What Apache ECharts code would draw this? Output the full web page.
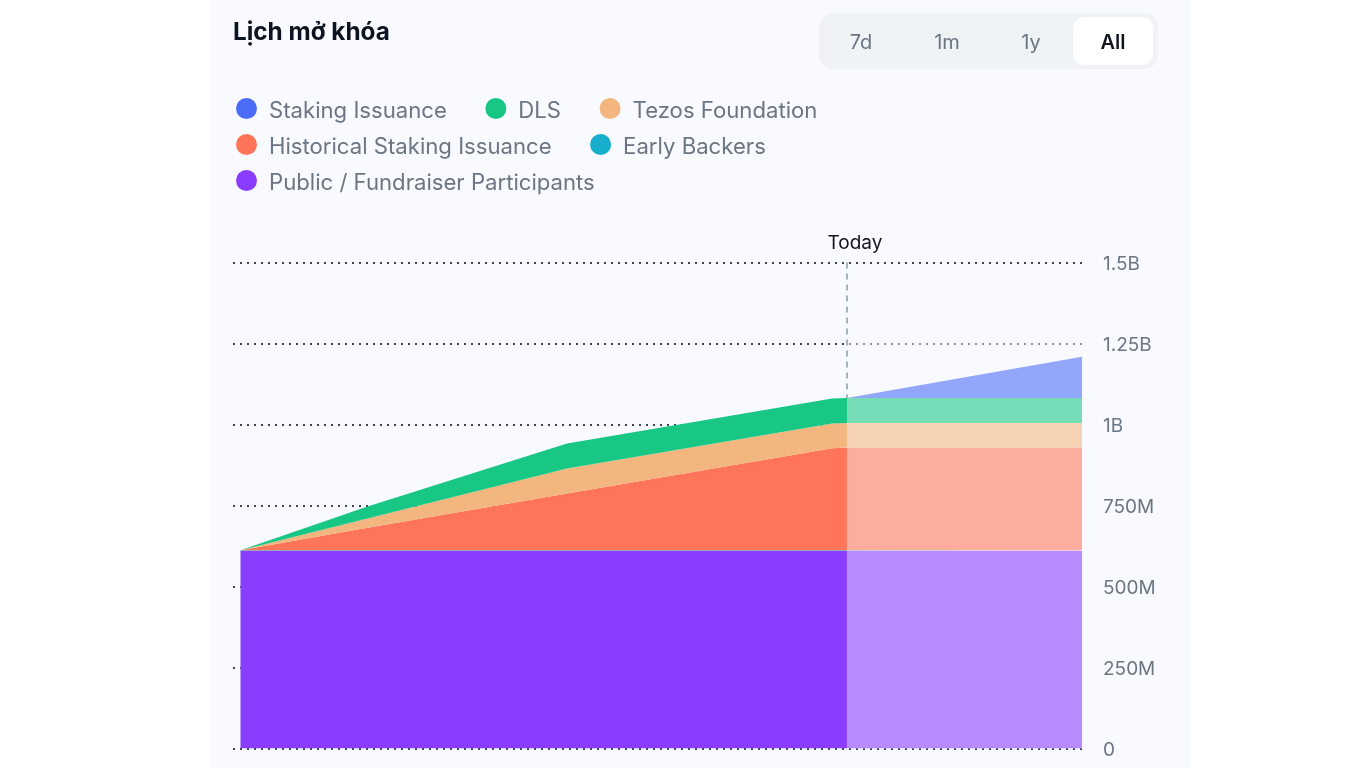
<!DOCTYPE html>
<html lang="vi">
<head>
<meta charset="utf-8">
<title>Lịch mở khóa</title>
<script src="https://cdn.jsdelivr.net/npm/echarts@6/dist/echarts.min.js"></script>
<style>
    html, body { margin: 0; padding: 0; background: #fff; overflow: hidden; }
    body { font-family: Inter, sans-serif; }
    #panel { position: absolute; left: 210px; top: 0; width: 981px; height: 768px; background: #f8faff; }
    #main { position: absolute; left: 0; top: 0; width: 1366px; height: 768px; }
    #range { position: absolute; left: 819px; top: 13px; width: 339px; height: 56px; background: #eff3f6; border-radius: 14px; }
    #range div { position: absolute; top: 4px; height: 48px; line-height: 51px; text-align: center; font-size: 20px; color: #6b7583; }
    #range .on { background: #fff; border-radius: 11px; color: #10151f; font-weight: 600; }
</style>
</head>
<body>
<div id="panel"></div>
<div id="main"></div>
<div id="range">
    <div style="left:0;width:84px">7d</div>
    <div style="left:86px;width:84px">1m</div>
    <div style="left:170px;width:84px">1y</div>
    <div class="on" style="left:254px;width:80px">All</div>
</div>
<script type="text/javascript">
// dates are estimated from the position on the axis, the axis itself has no labels
var dates = ['2018-07-01', '2019-11-23', '2022-02-01', '2025-01-01', '2025-03-01', '2027-10-01'];
var axisStart = '2018-06-01';
var axisEnd = '2027-10-01';
var todayDate = '2025-03-01';

var publicFundraiser = [610e6, 610e6, 610e6, 610e6, 610e6, 610e6];
var earlyBackers = [2e6, 2e6, 2e6, 2e6, 2e6, 2e6];
var historicalStaking = [0, 69e6, 175e6, 315e6, 317e6, 317e6];
var tezosFoundation = [0, 29e6, 77e6, 76e6, 76e6, 76e6];
var dls = [0, 37e6, 77e6, 77e6, 77e6, 77e6];
var stakingIssuance = [0, 0, 0, 0, 0, 127e6];

var yTicks = ['0', '250M', '500M', '750M', '1B', '1.25B', '1.5B'];
var legendRows = [
    ['Staking Issuance', 'DLS', 'Tezos Foundation'],
    ['Historical Staking Issuance', 'Early Backers'],
    ['Public / Fundraiser Participants']
];
var yMax = 1.5e9;
var yStep = 250e6;

function pairs(values) {
    return values.map(function (v, i) { return [dates[i], v]; });
}

function areaSeries(name, values, color) {
    return {
        name: name,
        type: 'line',
        stack: 'unlock',
        data: pairs(values),
        color: color,
        showSymbol: false,
        symbol: 'circle',
        silent: true,
        lineStyle: { width: 0 },
        areaStyle: { color: color, opacity: 1 }
    };
}

var series = [
    areaSeries('Public / Fundraiser Participants', publicFundraiser, '#8b3dff'),
    areaSeries('Early Backers', earlyBackers, '#16aecb'),
    areaSeries('Historical Staking Issuance', historicalStaking, '#ff7559'),
    areaSeries('Tezos Foundation', tezosFoundation, '#f4b67f'),
    areaSeries('DLS', dls, '#18c784'),
    areaSeries('Staking Issuance', stakingIssuance, '#4a6cf7')
];

// top of the stack at today, that is where the dashed line stops
var todayIdx = dates.indexOf(todayDate);
var todayTop = publicFundraiser[todayIdx] + earlyBackers[todayIdx] + historicalStaking[todayIdx]
    + tezosFoundation[todayIdx] + dls[todayIdx] + stakingIssuance[todayIdx];

// the future part is washed out by a veil over the plot, the top gridline stays dark
series[5].markArea = {
    silent: true,
    z: 10,
    itemStyle: { color: 'rgba(248,250,255,0.42)' },
    data: [[{ xAxis: todayDate, yAxis: 0 }, { xAxis: axisEnd, yAxis: 1.49e9 }]]
};
series[5].markLine = {
    silent: true,
    z: 11,
    symbol: 'none',
    lineStyle: { color: '#a7b1c0', type: [6, 5], width: 2 },
    label: {
        show: true,
        position: 'start',
        formatter: 'Today',
        color: '#10151f',
        fontFamily: 'Inter',
        fontSize: 19,
        offset: [8, 0],
        distance: 10
    },
    data: [[{ xAxis: todayDate, yAxis: yMax }, { xAxis: todayDate, yAxis: todayTop }]]
};

var legends = legendRows.map(function (row, i) {
    return {
        data: row,
        left: 236,
        top: 98 + i * 36,
        padding: 0,
        orient: 'horizontal',
        icon: 'circle',
        itemWidth: 21,
        itemHeight: 21,
        itemGap: 38.5,
        selectedMode: false,
        formatter: '{t|{name}}',
        textStyle: {
            rich: {
                t: { color: '#6b7583', fontFamily: 'Inter', fontSize: 22.15, padding: [6, 0, 0, 7] }
            }
        }
    };
});

var myChart = echarts.init(document.getElementById('main'));
var option = {
    animation: false,
    backgroundColor: 'transparent',
    title: {
        text: 'Lịch mở khóa',
        left: 228,
        top: 16,
        textStyle: { color: '#0d1421', fontFamily: 'Inter', fontSize: 24.3, fontWeight: 700 }
    },
    legend: legends,
    grid: { left: 233, right: 284, top: 262.5, bottom: 19.5 },
    xAxis: { type: 'time', min: axisStart, max: axisEnd, show: false },
    yAxis: {
        type: 'value',
        position: 'right',
        min: 0,
        max: yMax,
        interval: yStep,
        axisLine: { show: false },
        axisTick: { show: false },
        axisLabel: {
            margin: 21,
            formatter: function (v) { return '{t|' + yTicks[Math.round(v / yStep)] + '}'; },
            rich: {
                t: { color: '#6b7583', fontFamily: 'Inter', fontSize: 19, padding: [4, 0, 0, 0] }
            }
        },
        splitLine: { lineStyle: { color: '#3d4450', type: [2, 5], width: 2 } }
    },
    series: series
};
myChart.setOption(option);
</script>
</body>
</html>
